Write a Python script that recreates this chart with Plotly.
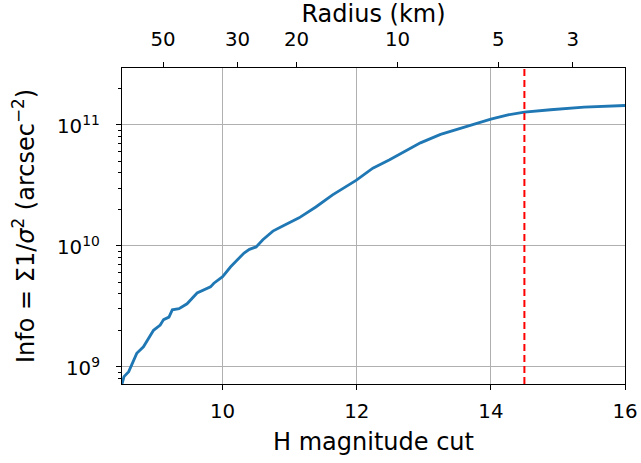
import numpy as np
import plotly.graph_objects as go

# ---- data ----
h_cut = [8.50, 8.53, 8.60, 8.65, 8.72, 8.82, 8.90, 8.97, 9.07, 9.12, 9.20, 9.25,
         9.35, 9.47, 9.62, 9.82, 9.87, 10.00, 10.12, 10.17, 10.32, 10.40, 10.50,
         10.60, 10.75, 10.89, 11.14, 11.39, 11.64, 11.99, 12.24, 12.49, 12.65,
         12.95, 13.25, 13.64, 14.00, 14.24, 14.50, 14.89, 15.39, 16.00]
info = [7.19e8, 8.28e8, 9.10e8, 1.067e9, 1.29e9, 1.46e9, 1.72e9, 2.00e9, 2.21e9,
        2.45e9, 2.57e9, 2.95e9, 3.02e9, 3.31e9, 4.07e9, 4.57e9, 4.90e9, 5.55e9,
        6.70e9, 7.16e9, 8.71e9, 9.33e9, 9.77e9, 1.12e10, 1.32e10, 1.45e10,
        1.70e10, 2.09e10, 2.63e10, 3.47e10, 4.37e10, 5.13e10, 5.75e10, 7.08e10,
        8.32e10, 9.68e10, 1.114e11, 1.202e11, 1.274e11, 1.330e11, 1.40e11, 1.442e11]
h_limit = 14.5
x_ticks = [10, 12, 14, 16]
y_ticks = [1e9, 1e10, 1e11]
y_ticktext = ["10<sup>9</sup>", "10<sup>10</sup>", "10<sup>11</sup>"]
radius_ticks = [50, 30, 20, 10, 5, 3]
albedo = 0.04

# H <-> radius conversion (km)
H0 = 5 * np.log10(1329.0 / (2 * np.sqrt(albedo)))
radius_h = [H0 - 5 * np.log10(r) for r in radius_ticks]

x_range = [8.5, 16]
y_range = [8.857, 11.469]

FONT = dict(family="DejaVu Sans", size=19.8, color="black")
GRID = "#b0b0b0"

fig = go.Figure()
fig.add_trace(go.Scatter(x=h_cut, y=info, mode="lines",
                         line=dict(color="#1f77b4", width=2.8),
                         showlegend=False, hoverinfo="skip"))
fig.add_trace(go.Scatter(x=[x_range[0]], y=[info[0]], xaxis="x2", mode="markers",
                         marker=dict(opacity=0), showlegend=False, hoverinfo="skip"))

fig.add_shape(type="line", xref="x", yref="paper", x0=h_limit, x1=h_limit, y0=0, y1=1,
              line=dict(color="red", width=2, dash="7px,4px"))

# y tick labels placed through the y scale (log axis -> log10 coordinates)
for v, t in zip(y_ticks, y_ticktext):
    fig.add_annotation(x=0, xref="paper", y=np.log10(v), yref="y", text=t,
                       showarrow=False, xanchor="right", yanchor="middle",
                       xshift=-20, font=FONT)

minor_vals = [k * 10.0 ** n for n in range(8, 12) for k in range(2, 10)]

fig.update_layout(
    width=641, height=463,
    margin=dict(l=122, r=16, t=68, b=79, autoexpand=False),
    paper_bgcolor="white", plot_bgcolor="white",
    font=FONT,
    xaxis=dict(range=x_range, tickmode="array", tickvals=x_ticks, automargin=False,
               ticks="outside", ticklen=5, tickwidth=1.1, tickcolor="black",
               ticklabelstandoff=4,
               showline=True, linecolor="black", linewidth=1.3, mirror=True,
               showgrid=True, gridcolor=GRID, gridwidth=1.1, zeroline=False,
               title=dict(text="H magnitude cut", standoff=11), tickfont=FONT),
    xaxis2=dict(range=x_range, overlaying="x", anchor="y", side="top", automargin=False,
                tickmode="array", tickvals=radius_h,
                ticktext=[str(r) for r in radius_ticks],
                ticks="outside", ticklen=5, tickwidth=1.1, tickcolor="black",
                ticklabelstandoff=8,
                showline=False, showgrid=False, zeroline=False,
                title=dict(text="Radius (km)", standoff=4), tickfont=FONT),
    yaxis=dict(type="log", range=y_range, tickmode="array", tickvals=y_ticks,
               showticklabels=False, automargin=False,
               ticks="outside", ticklen=5, tickwidth=1.1, tickcolor="black",
               showline=True, linecolor="black", linewidth=1.3, mirror=True,
               showgrid=True, gridcolor=GRID, gridwidth=1.1, zeroline=False,
               minor=dict(tickmode="array", tickvals=minor_vals, ticks="outside",
                          ticklen=3, tickwidth=1, tickcolor="black", showgrid=False),
               title=dict(text="Info = Σ1/<i>σ</i><sup>2</sup> (arcsec<sup>−2</sup>)",
                          standoff=74),
               tickfont=FONT),
)

fig.write_html("out.html")
